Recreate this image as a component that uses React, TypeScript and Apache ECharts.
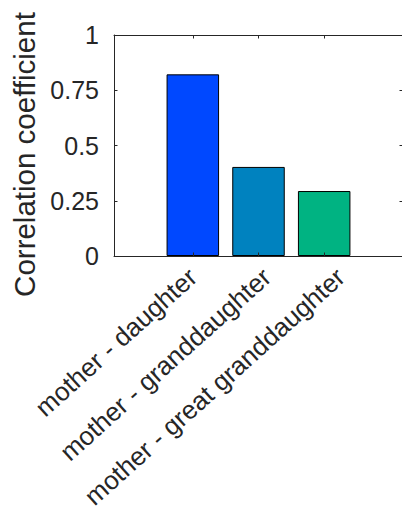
import React, { useEffect, useRef } from "react";
import * as echarts from "echarts";

const categories = ["mother - daughter", "mother - granddaughter", "mother - great granddaughter"];
const positions = [1, 2, 3];
const values = [0.822, 0.403, 0.294];
const barColors = ["#0048FF", "#0082BF", "#00B382"];
const yTicks = { min: 0, max: 1, interval: 0.25 };

export default function App() {
  const ref = useRef<HTMLDivElement>(null);
  useEffect(() => {
    document.body.style.margin = "0";
    const chart = echarts.init(ref.current!, null, { renderer: "svg" });
    const axisColor = "#262626";
    const font = "Liberation Sans, Arial, Helvetica, sans-serif";
    const xMin = -0.2;
    const xMax = 4.2;
    const gridWidth = 289;
    const pxPerUnit = gridWidth / (xMax - xMin);
    const labelSpreadPx = 8.3; // rotated labels in the reference sit slightly further apart than the ticks
    const labelAnchors = positions.map((p, i) => p + (i * labelSpreadPx) / pxPerUnit);
    const labelFor = (v: number) => {
      let best = 0;
      labelAnchors.forEach((a, i) => {
        if (Math.abs(a - v) < Math.abs(labelAnchors[best] - v)) best = i;
      });
      return categories[best];
    };
    chart.setOption({
      animation: false,
      backgroundColor: "#fff",
      grid: {
        left: 114,
        top: 35,
        width: gridWidth,
        height: 221,
        containLabel: false,
        outerBoundsMode: "none",
      },
      xAxis: [
        {
          type: "value",
          position: "bottom",
          min: xMin,
          max: xMax,
          z: 10,
          axisLine: { show: true, onZero: false, lineStyle: { color: axisColor, width: 1 } },
          axisTick: { show: true, inside: true, length: 3.5, customValues: positions, lineStyle: { color: axisColor } },
          axisLabel: {
            show: true,
            customValues: labelAnchors,
            rotate: 42,
            margin: 17,
            fontSize: 26,
            fontFamily: font,
            color: axisColor,
            showMinLabel: true,
            showMaxLabel: true,
            formatter: (v: number) => labelFor(v),
          },
          splitLine: { show: false },
        },
        {
          type: "value",
          position: "top",
          min: xMin,
          max: xMax,
          z: 10,
          axisLine: { show: true, onZero: false, lineStyle: { color: axisColor, width: 1 } },
          axisTick: { show: true, inside: true, length: 3.5, customValues: positions, lineStyle: { color: axisColor } },
          axisLabel: { show: false },
          splitLine: { show: false },
        },
      ],
      yAxis: [
        {
          type: "value",
          position: "left",
          min: yTicks.min,
          max: yTicks.max,
          interval: yTicks.interval,
          z: 10,
          name: "Correlation coefficient",
          nameLocation: "middle",
          nameGap: 75,
          nameTextStyle: { fontSize: 29.5, fontFamily: font, color: axisColor, padding: [0, 18, 0, 0] },
          axisLine: { show: true, onZero: false, lineStyle: { color: axisColor, width: 1 } },
          axisTick: { show: true, inside: true, length: 3.5, lineStyle: { color: axisColor } },
          axisLabel: { show: true, margin: 15, fontSize: 25, fontFamily: font, color: axisColor },
          splitLine: { show: false },
        },
        {
          type: "value",
          position: "right",
          min: yTicks.min,
          max: yTicks.max,
          interval: yTicks.interval,
          z: 10,
          axisLine: { show: true, onZero: false, lineStyle: { color: axisColor, width: 1 } },
          axisTick: { show: true, inside: true, length: 3.5, lineStyle: { color: axisColor } },
          axisLabel: { show: false },
          splitLine: { show: false },
        },
      ],
      series: [
        {
          type: "bar",
          xAxisIndex: 0,
          yAxisIndex: 0,
          barWidth: 52.5,
          z: 2,
          data: positions.map((p, i) => ({
            value: [p, values[i]],
            itemStyle: { color: barColors[i], borderColor: "#000", borderWidth: 1 },
          })),
        },
      ],
    });
    return () => chart.dispose();
  }, []);
  return <div ref={ref} style={{ width: 402, height: 512 }} />;
}
